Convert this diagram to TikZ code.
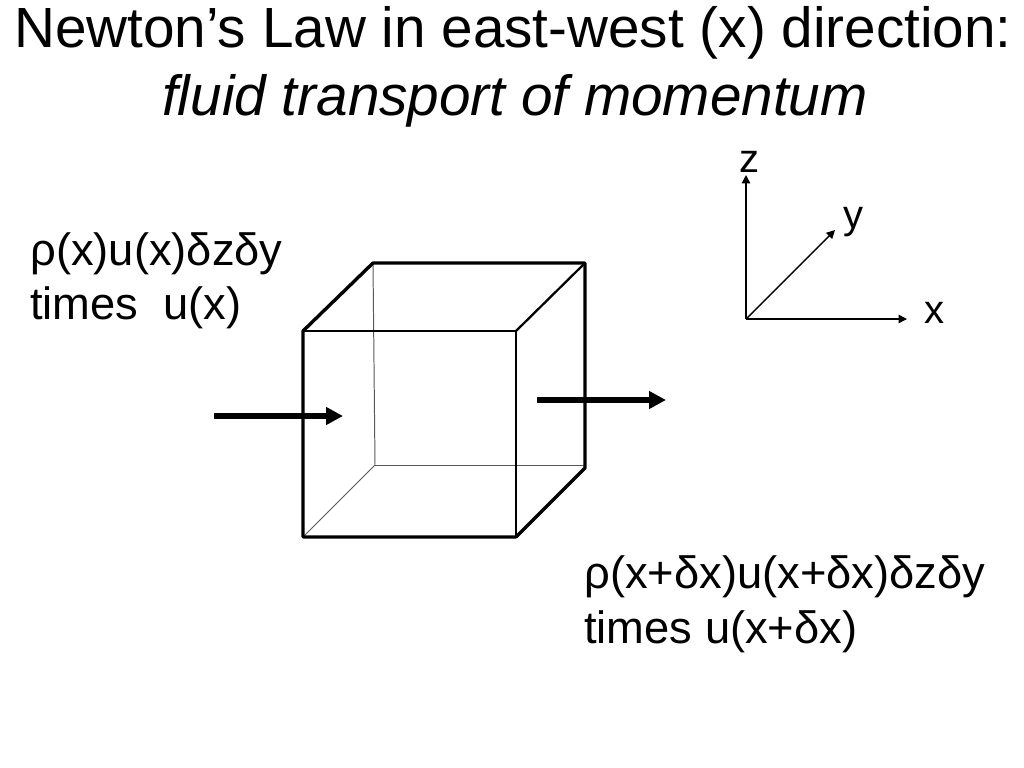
\documentclass[tikz,border=0pt]{standalone}
\usepackage{fontspec}
\setmainfont{Liberation Sans}
\usetikzlibrary{arrows.meta}
\tikzset{
  titletext/.style={anchor=base, inner sep=0pt, font=\fontsize{40.3}{40.3}\selectfont},
  labeltext/.style={anchor=base west, inner sep=0pt, font=\fontsize{32.2}{32.2}\selectfont},
  axislabel/.style={anchor=base, inner sep=0pt, font=\fontsize{28.5}{28.5}\selectfont},
  heavyedge/.style={line width=2.4pt, line cap=round, line join=round},
  midedge/.style={line width=1.6pt},
  hiddenedge/.style={line width=0.7pt, black!65},
  flowarrow/.style={line width=3.8pt, -{Triangle[length=12pt, width=12pt]}},
  axisarrow/.style={line width=1pt, -{Triangle[length=6pt, width=6pt]}}
}
\begin{document}
\begin{tikzpicture}[x=0.025cm, y=-0.025cm]
  \useasboundingbox (0,0) rectangle (1024,768);
  \node[titletext] (title) at (513,48) {Newton’s Law in east-west (x) direction:};
  \node[titletext] (subtitle) at (515,116) {\itshape fluid transport of momentum};

  \coordinate (ftl) at (303,331);
  \coordinate (ftr) at (516,331);
  \coordinate (fbr) at (516,537);
  \coordinate (fbl) at (303,537);
  \coordinate (btl) at (373,263);
  \coordinate (btr) at (585,263);
  \coordinate (bbr) at (585,468);
  \coordinate (bbm) at (585,465);
  \coordinate (bbl) at (375,465);

  \draw[hiddenedge] (btl) -- (bbl);
  \draw[hiddenedge] (bbl) -- (bbm);
  \draw[hiddenedge] (bbl) -- (fbl);
  \draw[midedge] (ftl) -- (ftr) -- (fbr);
  \draw[heavyedge] (fbr) -- (fbl) -- (ftl) -- (btl) -- (btr) -- (bbr) -- (fbr);
  \draw[midedge] (ftr) -- (btr);

  \coordinate (ina) at (214,416);
  \coordinate (inb) at (343,416);
  \coordinate (outa) at (537,400);
  \coordinate (outb) at (666,400);
  \draw[flowarrow] (ina) -- (inb);
  \draw[flowarrow] (outa) -- (outb);

  \coordinate (origin) at (746,319);
  \coordinate (ztip) at (746,175);
  \coordinate (ytip) at (835,230);
  \coordinate (xtip) at (907,319);
  \draw[axisarrow] (origin) -- (ztip);
  \draw[axisarrow] (origin) -- (ytip);
  \draw[axisarrow] (origin) -- (xtip);
  \node[axislabel] (zlabel) at (750,172) {z};
  \node[axislabel] (ylabel) at (854,228) {y};
  \node[axislabel] (xlabel) at (935,323) {x};

  \node[labeltext] (influx) at (30,265) {ρ(x)u(x)δzδy};
  \node[labeltext] (influxb) at (30,319) {times\ \ u(x)};
  \node[labeltext] (outflux) at (584,588) {ρ(x+δx)u(x+δx)δzδy};
  \node[labeltext] (outfluxb) at (584,643) {times u(x+δx)};
\end{tikzpicture}
\end{document}
